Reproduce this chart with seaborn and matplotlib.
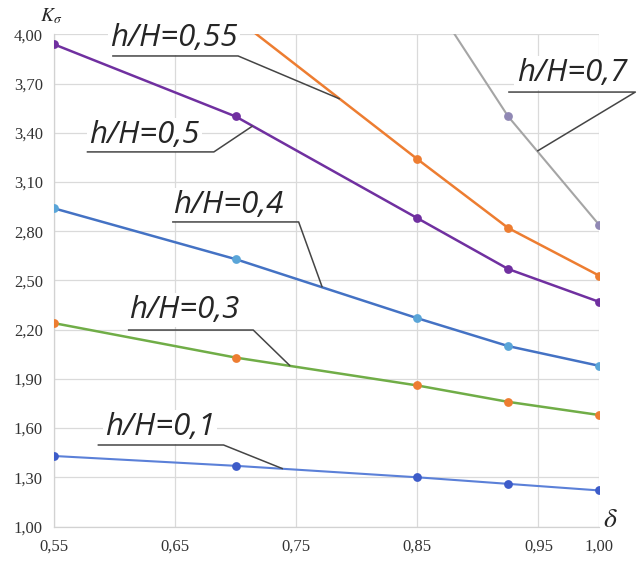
"""K_sigma vs delta for several h/H ratios, redrawn with seaborn.

Writes out.png (643x570 px).
"""

import matplotlib
matplotlib.use("Agg")

import matplotlib.pyplot as plt
import numpy as np
import pandas as pd
import seaborn as sns

# data
DELTA = [0.55, 0.70, 0.85, 0.925, 1.00]
K_01 = [1.43, 1.37, 1.30, 1.26, 1.22]
K_03 = [2.24, 2.03, 1.86, 1.76, 1.68]
K_04 = [2.94, 2.63, 2.27, 2.10, 1.98]
K_05 = [3.94, 3.50, 2.88, 2.57, 2.37]
K_055 = [np.nan, 4.10, 3.24, 2.82, 2.53]   # first point off the chart
K_07 = [np.nan, np.nan, 4.35, 3.50, 2.84]   # first points off the chart

X_TICKS = [0.55, 0.65, 0.75, 0.85, 0.95, 1.00]
Y_TICKS = [1.00, 1.30, 1.60, 1.90, 2.20, 2.50, 2.80, 3.10, 3.40, 3.70, 4.00]

LABEL_NAMES = ["h/H=0,1", "h/H=0,3", "h/H=0,4", "h/H=0,5", "h/H=0,55", "h/H=0,7"]

# (values, line colour, marker colour, line width)
SERIES = [
    (K_01, "#5b80d8", "#3d5cc9", 1.5),
    (K_03, "#70ad47", "#ed7d31", 1.8),
    (K_04, "#4472c4", "#5aa5d8", 1.8),
    (K_05, "#7030a0", "#7030a0", 1.8),
    (K_055, "#ed7d31", "#ed7d31", 1.8),
    (K_07, "#a5a5a5", "#9088b4", 1.5),
]

# label layout in data units: text x, text baseline y, underline x0, x1, y, leader target x
LABEL_LAYOUT = [
    (0.592, 1.558, 0.586, 0.690, 1.497, 0.739),
    (0.612, 2.270, 0.611, 0.7145, 2.198, 0.745),
    (0.648, 2.910, 0.6475, 0.752, 2.857, 0.7715),
    (0.579, 3.340, 0.577, 0.682, 3.284, 0.714),
    (0.596, 3.932, 0.598, 0.702, 3.869, 0.786),
    (0.932, 3.716, 0.925, 1.030, 3.649, 0.949),
]


def fmt(v):
    return f"{v:.2f}".replace(".", ",")


sns.set_style("white")
plt.rcParams["mathtext.fontset"] = "stix"

fig = plt.figure(figsize=(6.43, 5.70), dpi=100)
ax = fig.add_axes([0.084, 0.0763, 0.8476, 0.8632])

for vals, lc, mc, lw in SERIES:
    df = pd.DataFrame({"delta": DELTA, "k": vals}).dropna()
    sns.lineplot(data=df, x="delta", y="k", color=lc, lw=lw, ax=ax, zorder=4)
    sns.scatterplot(data=df, x="delta", y="k", color=mc, s=40, linewidth=0,
                    ax=ax, zorder=5)

ax.set_xlim(0.55, 1.00)
ax.set_ylim(1.00, 4.00)
ax.set_xlabel("")
ax.set_ylabel("")

tick_font = dict(family=["Liberation Serif", "DejaVu Serif"], size=12)
ax.set_xticks(X_TICKS)
ax.set_xticklabels([fmt(v) for v in X_TICKS], fontdict=tick_font, color="#333333")
ax.set_yticks(Y_TICKS)
ax.set_yticklabels([fmt(v) for v in Y_TICKS], fontdict=tick_font, color="#333333")
ax.tick_params(axis="x", length=0, pad=9)
ax.tick_params(axis="y", length=0, pad=8)

ax.grid(True, color="#dadada", lw=0.9)
ax.set_axisbelow(True)
for side in ["top", "right"]:
    ax.spines[side].set_visible(False)
for side in ["left", "bottom"]:
    ax.spines[side].set_color("#d2d2d2")
    ax.spines[side].set_linewidth(0.9)

# callout labels with underline and leader line
for name, (vals, _, _, _), (tx, ty, ux0, ux1, uy, lx) in zip(LABEL_NAMES, SERIES, LABEL_LAYOUT):
    s = pd.Series(vals, index=DELTA).dropna()
    ly = np.interp(lx, s.index.values, s.values)
    ax.text(tx, ty, name, fontsize=22.5, style="italic", color="#262626",
            family=["Open Sans", "Lato", "DejaVu Sans"], va="baseline", ha="left",
            zorder=3, clip_on=False,
            bbox=dict(facecolor="white", edgecolor="none", pad=1.5))
    ax.plot([ux0, ux1, lx], [uy, uy, ly], color="#454545", lw=1.1,
            zorder=6, clip_on=False, solid_capstyle="butt")

fig.text(40 / 643, 1 - 21.7 / 570, r"$K_{\sigma}$", fontsize=14, color="#262626",
         va="baseline", ha="left")
fig.text(603 / 643, 1 - 527 / 570, r"$\delta$", fontsize=20, color="#262626",
         va="baseline", ha="left")

fig.savefig("out.png", dpi=100)
plt.close(fig)
